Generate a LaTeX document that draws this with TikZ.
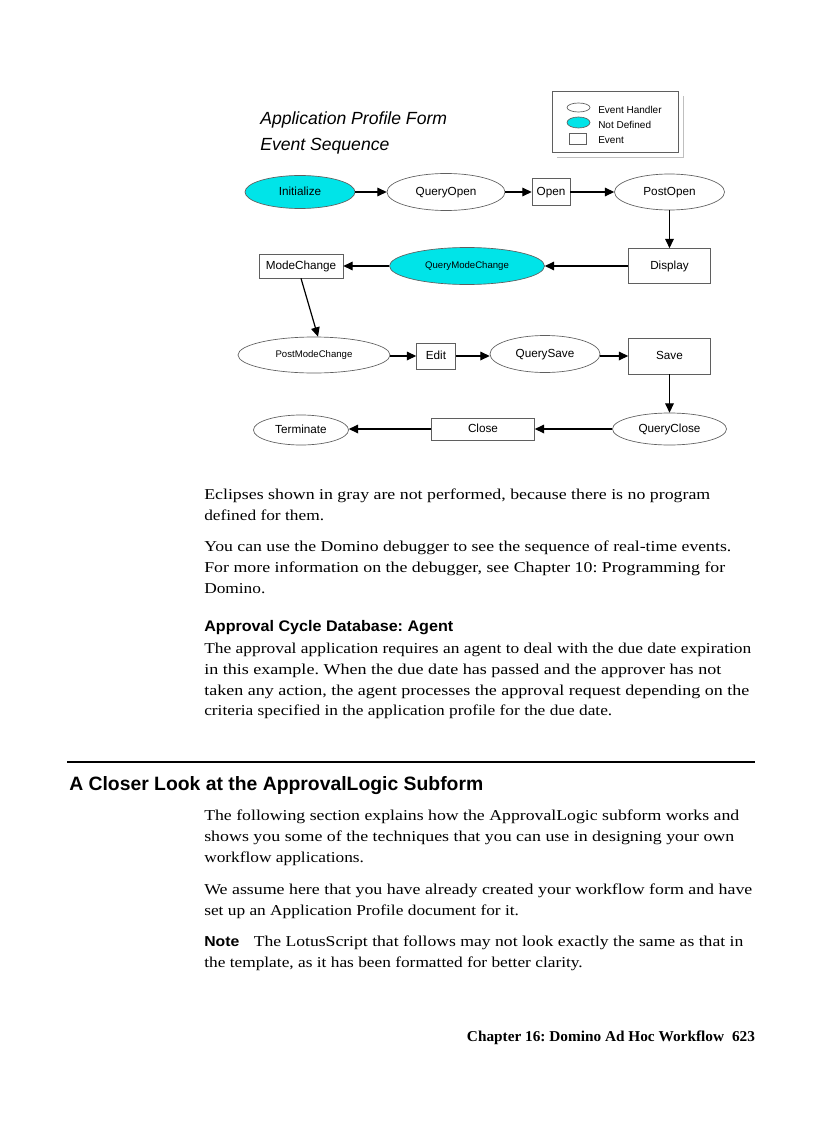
\documentclass[tikz,border=0pt]{standalone}
\usepackage{fontspec}
\setmainfont{Liberation Serif}[FakeStretch=1.15]
\setsansfont{Liberation Sans}
\usepackage{graphicx}
\usetikzlibrary{shapes.geometric,arrows.meta}
\newlength\px \setlength\px{0.75pt}
\definecolor{cyanfill}{RGB}{0,228,232}
\definecolor{edgegray}{RGB}{95,95,95}
\frenchspacing
\tikzset{
 ev/.style={ellipse, draw=edgegray, line width=0.5pt, inner sep=0pt, fill=white, text height=6.4pt, text depth=1.6pt, font=\sffamily\fontsize{8.8}{10}\selectfont},
 nd/.style={ev, fill=cyanfill},
 evt/.style={rectangle, draw=edgegray, line width=0.5pt, inner sep=0pt, fill=white, text height=6.4pt, text depth=1.6pt, font=\sffamily\fontsize{8.8}{10}\selectfont},
 small/.style={font=\sffamily\fontsize{7.2}{8}\selectfont, text height=5.2pt, text depth=1.3pt},
 empty/.style={text height=0pt, text depth=0pt},
 sz/.style 2 args={minimum width=#1*0.75pt, minimum height=#2*0.75pt},
 arr/.style={-{Triangle[length=7pt,width=6.5pt]}, line width=0.9pt},
 body/.style={anchor=base west, inner sep=0pt, font=\rmfamily\fontsize{11.3}{13}\selectfont},
 sanshead/.style={anchor=base west, inner sep=0pt, font=\sffamily\bfseries\fontsize{11.5}{13}\selectfont},
 legtext/.style={anchor=base west, inner sep=0pt, font=\sffamily\fontsize{7.5}{9}\selectfont},
 title/.style={anchor=base west, inner sep=0pt, font=\sffamily\itshape\fontsize{13.2}{15}\selectfont},
}
\newcommand\bl[5]{\node[body] (#1) at (#2,#3) {\resizebox{#4\px}{\height}{#5}};}
\newcommand\bn[4]{\node[body] (#1) at (#2,#3) {#4};}
\begin{document}
\begin{tikzpicture}[x=0.75pt,y=-0.75pt]
\fill[white] (0,0) rectangle (816,1123);
\useasboundingbox (0,0) rectangle (816,1123);

% ---- title ----
\node[title] (t1) at (260,124.3) {Application Profile Form};
\node[title] (t2) at (260,151) {Event Sequence};

% ---- legend ----
\draw[black!25, line width=0.6pt] (557,157) -- (683,157) -- (683,96);
\node[rectangle, draw=edgegray, line width=0.6pt, fill=white, sz={126}{61}, inner sep=0pt] (legbox) at (615,121.5) {};
\node[ev, empty, sz={23}{9}] (lg1) at (578.5,107.5) {};
\node[nd, empty, sz={23}{11}] (lg2) at (578.5,122.5) {};
\node[evt, empty, sz={17}{11}] (lg3) at (577.5,138.5) {};
\node[legtext] (lt1) at (598,113.3) {Event Handler};
\node[legtext] (lt2) at (598,128.5) {Not Defined};
\node[legtext] (lt3) at (598,143.3) {Event};

% ---- nodes ----
\node[nd, sz={110}{33}] (init) at (300,192) {Initialize};
\node[ev, sz={118}{37}] (qopen) at (446,192) {QueryOpen};
\node[evt, sz={38}{27}] (open) at (551,192) {Open};
\node[ev, sz={110}{36}] (popen) at (669.5,192) {PostOpen};
\node[evt, sz={82}{35}] (disp) at (669.5,266) {Display};
\node[nd, small, sz={155}{37}] (qmc) at (467,266) {QueryModeChange};
\node[evt, sz={84}{24}] (mc) at (301,266) {ModeChange};
\node[ev, small, sz={152}{36}] (pmc) at (314,355) {PostModeChange};
\node[evt, sz={39}{26}] (edit) at (436,356) {Edit};
\node[ev, sz={110}{37}] (qsave) at (545,354) {QuerySave};
\node[evt, sz={82}{36}] (save) at (669.5,356) {Save};
\node[ev, sz={114}{32}] (qclose) at (669.5,429) {QueryClose};
\node[evt, sz={103}{22}] (close) at (483,429) {Close};
\node[ev, sz={95}{30}] (term) at (301,430) {Terminate};

% ---- connectors ----
\draw[arr] (init) -- (qopen);
\draw[arr] (qopen) -- (open);
\draw[arr] (open) -- (popen);
\draw[arr] (popen) -- (disp);
\draw[arr] (disp) -- (qmc);
\draw[arr] (qmc) -- (mc);
\draw[arr] (mc.south) -- ([xshift=3pt]pmc.north);
\draw[arr] (pmc.east |- edit.west) -- (edit.west);
\draw[arr] (edit.east) -- (qsave.west |- edit.east);
\draw[arr] (qsave.east |- save.west) -- (save.west);
\draw[arr] (save) -- (qclose);
\draw[arr] (qclose) -- (close);
\draw[arr] (close.west) -- (term.east |- close.west);

% ---- body text ----
\bl{a1}{204}{499}{506}{Eclipses shown in gray are not performed, because there is no program}
\bn{a2}{204}{520.5}{defined for them.}
\bl{a3}{204}{551.5}{527}{You can use the Domino debugger to see the sequence of real-time events.}
\bl{a4}{204}{572}{521}{For more information on the debugger, see Chapter 10: Programming for}
\bn{a5}{204}{593}{Domino.}
\node[sanshead] (h1) at (204,631.5) {\resizebox{249\px}{\height}{Approval Cycle Database: Agent}};
\bl{a6}{204}{653}{547}{The approval application requires an agent to deal with the due date expiration}
\bl{a7}{204}{674}{517}{in this example. When the due date has passed and the approver has not}
\bl{a8}{204}{695}{545}{taken any action, the agent processes the approval request depending on the}
\bn{a9}{204}{715.5}{criteria specified in the application profile for the due date.}

\draw[line width=1.9pt] (67,762) -- (755,762);
\node[anchor=base west, inner sep=0pt, font=\sffamily\bfseries\fontsize{14.5}{17}\selectfont] (h2) at (69,790) {\resizebox{414\px}{\height}{A Closer Look at the ApprovalLogic Subform}};

\bl{b1}{204}{820.5}{535}{The following section explains how the ApprovalLogic subform works and}
\bl{b2}{204}{841.5}{530}{shows you some of the techniques that you can use in designing your own}
\bn{b3}{204}{862.5}{workflow applications.}
\bl{b4}{204}{894}{548}{We assume here that you have already created your workflow form and have}
\bn{b5}{204}{915}{set up an Application Profile document for it.}
\node[anchor=base west, inner sep=0pt, font=\sffamily\bfseries\fontsize{10.8}{12}\selectfont] (note) at (204,946.5) {\resizebox{35\px}{\height}{Note}};
\bl{b6}{253.5}{946.5}{489.5}{The LotusScript that follows may not look exactly the same as that in}
\bn{b7}{204}{967.5}{the template, as it has been formatted for better clarity.}

\node[anchor=base west, inner sep=0pt, font=\rmfamily\bfseries\fontsize{11.3}{13}\selectfont] (foot) at (466.7,1041) {\resizebox{288\px}{\height}{Chapter 16: Domino Ad Hoc Workflow\hspace{0.6em}623}};
\end{tikzpicture}
\end{document}
